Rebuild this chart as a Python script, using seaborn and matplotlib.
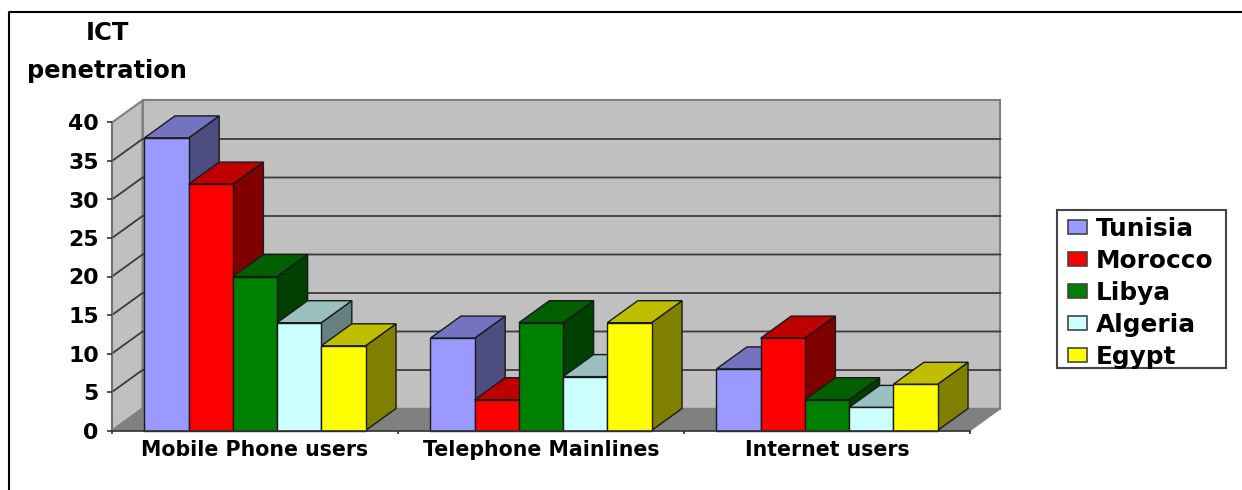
import matplotlib
matplotlib.use("Agg")
import matplotlib.pyplot as plt
from matplotlib.lines import Line2D
from matplotlib.patches import Polygon, Rectangle
import pandas as pd
import seaborn as sns

categories = ["Mobile Phone users", "Telephone Mainlines", "Internet users"]
countries = ["Tunisia", "Morocco", "Libya", "Algeria", "Egypt"]
tunisia = [38, 12, 8]
morocco = [32, 4, 12]
libya = [20, 14, 4]
algeria = [14, 7, 3]
egypt = [11, 14, 6]
front_colors = ["#9999ff", "#ff0000", "#008000", "#ccffff", "#ffff00"]
top_colors = ["#7373bf", "#bf0000", "#006000", "#99bfbf", "#bfbf00"]
side_colors = ["#4d4d80", "#800000", "#004000", "#668080", "#808000"]

rows = []
for name, vals in zip(countries, [tunisia, morocco, libya, algeria, egypt]):
    for cat, v in zip(categories, vals):
        rows.append({"category": cat, "country": name, "value": v})
df = pd.DataFrame(rows)

W, H = 1242, 490
sns.set_theme(style="white")
plt.rcParams["font.family"] = ["DejaVu Sans"]
fig = plt.figure(figsize=(W / 100, H / 100), dpi=100, facecolor="white")
ax = fig.add_axes([112 / W, (H - 430.5) / H, 858 / W, 308 / H])
ax.patch.set_alpha(0)

sns.barplot(data=df, x="category", y="value", hue="country", hue_order=countries,
            order=categories, palette=front_colors, saturation=1, width=0.773, gap=0,
            edgecolor="#1a1a1a", linewidth=1, errorbar=None, ax=ax)
ax.set_xlim(-0.5, 2.5)
ax.set_ylim(0, 40)

bars = sorted([p for p in ax.patches if isinstance(p, Rectangle) and p.get_height() > 0],
              key=lambda p: p.get_x())

# depth of the pseudo-3D view, as data units
ddx = 30.5 / (858 / 3)
ddy = 22 / (308 / 40)
x0, x1 = -0.5, 2.5
y0, y1 = 0, 40
wall = "#c0c0c0"
wall_edge = "#808080"
def poly(pts, fc, ec, lw, z):
    ax.add_patch(Polygon(pts, closed=True, facecolor=fc, edgecolor=ec, linewidth=lw,
                         clip_on=False, zorder=z))

poly([(x0 + ddx, y0 + ddy), (x1 + ddx, y0 + ddy), (x1 + ddx, y1 + ddy), (x0 + ddx, y1 + ddy)],
     wall, wall_edge, 1.5, 0.1)
poly([(x0, y0), (x0 + ddx, y0 + ddy), (x0 + ddx, y1 + ddy), (x0, y1)], wall, wall_edge, 1.5, 0.1)
poly([(x0, y0), (x1, y0), (x1 + ddx, y0 + ddy), (x0 + ddx, y0 + ddy)], "#808080", "#808080", 1, 0.2)
for t in range(5, 40, 5):
    ax.plot([x0, x0 + ddx, x1 + ddx], [t, t + ddy, t + ddy], color="#3a3a3a", lw=1.3,
            clip_on=False, zorder=0.3)

for i, bar in enumerate(bars):
    k = i % 5
    bx, bw, bh = bar.get_x(), bar.get_width(), bar.get_height()
    z = 3 + i * 0.01
    poly([(bx + bw, 0), (bx + bw + ddx, ddy), (bx + bw + ddx, bh + ddy), (bx + bw, bh)],
         side_colors[k], "#1a1a1a", 1, z)
    poly([(bx, bh), (bx + bw, bh), (bx + bw + ddx, bh + ddy), (bx + ddx, bh + ddy)],
         top_colors[k], "#1a1a1a", 1, z)
    bar.set_zorder(z + 0.001)
    bar.set_clip_on(False)

for s in ["top", "right"]:
    ax.spines[s].set_visible(False)
ax.spines["bottom"].set_color("#333333")
ax.spines["bottom"].set_linewidth(1.2)
ax.spines["bottom"].set_zorder(3.5)
ax.spines["left"].set_color("#707070")
ax.spines["left"].set_linewidth(1.2)
ax.spines["left"].set_zorder(0.4)

ax.set_xlabel("")
ax.set_ylabel("")
ax.set_yticks(range(0, 45, 5))
ax.set_xticks([-0.5, 0.5, 1.5, 2.5], minor=True)
ax.tick_params(axis="y", which="major", left=True, length=3.6, width=1.2, color="#333333",
               labelsize=15.8, pad=6)
ax.tick_params(axis="x", which="major", bottom=False, labelsize=14.8, pad=1)
ax.tick_params(axis="x", which="minor", bottom=True, length=2.5, width=1.2, color="#333333")
for lab in ax.get_yticklabels() + ax.get_xticklabels():
    lab.set_fontweight("bold")
    lab.set_color("black")

fig.add_artist(Rectangle((1057 / W, 1 - 368 / H), 169 / W, 158 / H, transform=fig.transFigure,
                         facecolor="white", edgecolor="#444444", linewidth=1.5))

handles, labels = ax.get_legend_handles_labels()
if ax.get_legend():
    ax.get_legend().remove()
leg = fig.legend(handles, labels, loc="upper left",
                 bbox_to_anchor=(1068 / W, 1 - 217 / H), bbox_transform=fig.transFigure,
                 prop={"weight": "bold", "size": 17.8}, frameon=False, labelcolor="black",
                 borderpad=0, labelspacing=0.32, handlelength=0.75, handleheight=0.49,
                 handletextpad=0.36, borderaxespad=0)
for h in leg.legend_handles:
    h.set_edgecolor("#444444")
    h.set_linewidth(1.2)

fig.text(107 / W, 1 - 33 / H, "ICT", ha="center", va="center", fontsize=17.5, fontweight="bold", color="black")
fig.text(107 / W, 1 - 71 / H, "penetration", ha="center", va="center", fontsize=17.4, fontweight="bold", color="black")

fig.add_artist(Line2D([9 / W, 9 / W, 1], [0, 1 - 12 / H, 1 - 12 / H], color="black", lw=1.5,
                      transform=fig.transFigure))

fig.savefig("out.png", dpi=100, facecolor="white")
